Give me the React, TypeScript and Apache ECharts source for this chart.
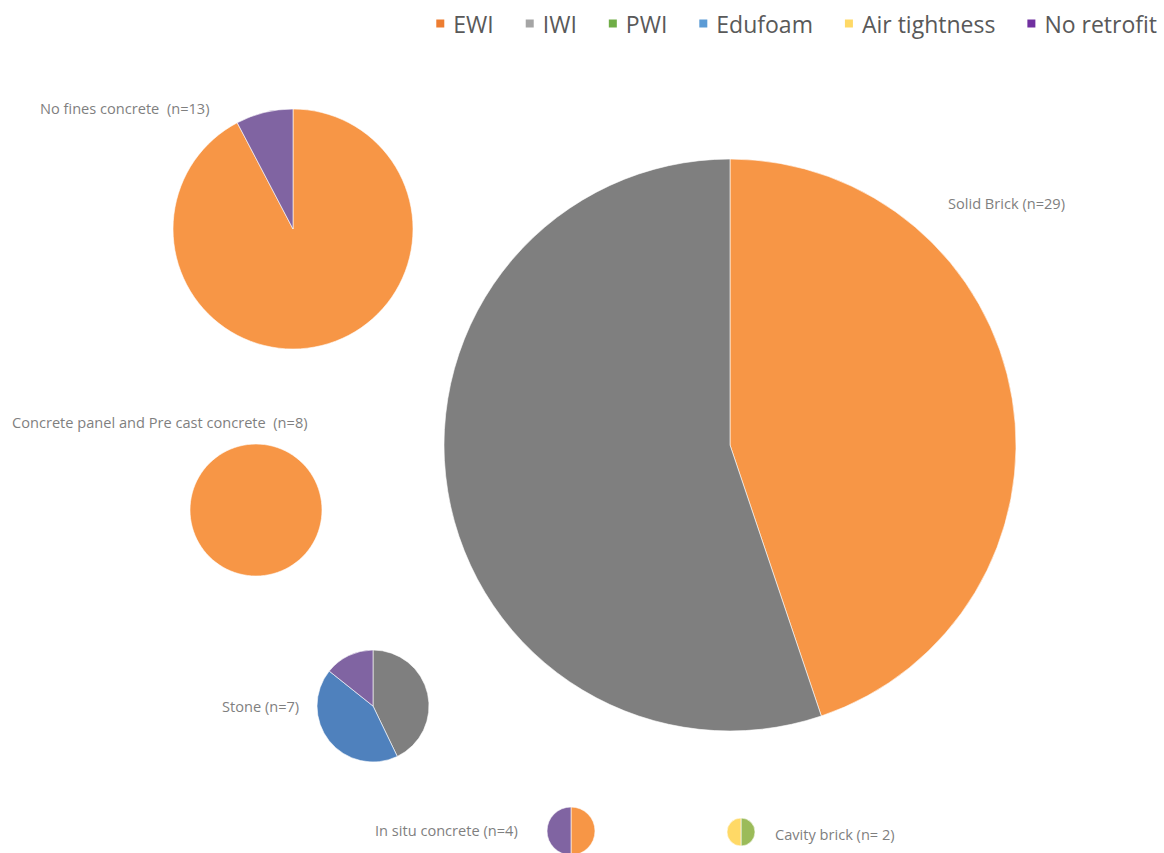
import React, { useEffect, useRef } from "react";
import * as echarts from "echarts";

const categories = ["EWI", "IWI", "PWI", "Edufoam", "Air tightness", "No retrofit"];
const sliceColors = ["#F79646", "#7F7F7F", "#9BBB59", "#4F81BD", "#FFD966", "#8064A2"];
const legendColors = ["#ED7D31", "#A5A5A5", "#70AD47", "#5B9BD5", "#FFD966", "#7030A0"];

const wallTypes = [
  "Solid Brick (n=29)",
  "No fines concrete  (n=13)",
  "Concrete panel and Pre cast concrete  (n=8)",
  "Stone (n=7)",
  "In situ concrete (n=4)",
  "Cavity brick (n= 2)",
];

// counts per category: EWI, IWI, PWI, Edufoam, Air tightness, No retrofit
const solidBrick = [13, 16, 0, 0, 0, 0];
const noFinesConcrete = [12, 0, 0, 0, 0, 1];
const concretePanel = [8, 0, 0, 0, 0, 0];
const stone = [0, 3, 0, 3, 0, 1];
const inSituConcrete = [2, 0, 0, 0, 0, 2];
const cavityBrick = [0, 0, 1, 0, 1, 0];

const seriesValues = [solidBrick, noFinesConcrete, concretePanel, stone, inSituConcrete, cavityBrick];

// layout (pixels): pie center, radius, label position
const pieLayout = [
  { cx: 730, cy: 445, r: 286, lx: 948, ly: 203 },
  { cx: 293, cy: 229, r: 120, lx: 40, ly: 108 },
  { cx: 256, cy: 510, r: 66, lx: 12, ly: 422 },
  { cx: 373, cy: 706, r: 56, lx: 222, ly: 706 },
  { cx: 571, cy: 831, r: 24, lx: 375, ly: 830 },
  { cx: 741, cy: 832, r: 14, lx: 775, ly: 834 },
];

export default function App() {
  const ref = useRef<HTMLDivElement>(null);
  useEffect(() => {
    if (!ref.current) return;
    const chart = echarts.init(ref.current, undefined, { renderer: "svg" });
    const series = seriesValues.map((vals, i) => {
      const L = pieLayout[i];
      return {
        type: "pie",
        name: wallTypes[i],
        center: [L.cx, L.cy],
        radius: [0, L.r],
        startAngle: 90,
        clockwise: true,
        label: { show: false },
        labelLine: { show: false },
        emphasis: { disabled: true },
        itemStyle: { borderColor: "#ffffff", borderWidth: 0.6 },
        data: vals
          .map((v, k) => ({ name: categories[k], value: v, itemStyle: { color: sliceColors[k] } }))
          .filter((d) => d.value > 0),
      };
    });
    const graphic = wallTypes.map((t, i) => ({
      type: "text",
      x: pieLayout[i].lx,
      y: pieLayout[i].ly,
      style: {
        text: t,
        fill: "#7F7F7F",
        font: '14.6px "Open Sans", sans-serif',
        textVerticalAlign: "middle",
        textAlign: "left",
      },
    }));
    chart.setOption({
      animation: false,
      backgroundColor: "#ffffff",
      legend: {
        right: 2,
        top: 7,
        itemWidth: 10,
        itemHeight: 10,
        itemGap: 30,
        icon: "rect",
        selectedMode: false,
        textStyle: {
          fontSize: 23,
          color: "#595959",
          fontFamily: "Open Sans, sans-serif",
          padding: [0, 0, 0, 3],
        },
        data: categories.map((c, k) => ({ name: c, itemStyle: { color: legendColors[k] } })),
      },
      graphic,
      series,
    });
    return () => chart.dispose();
  }, []);
  return (
    <div
      ref={ref}
      style={{ position: "fixed", left: 0, top: 0, width: 1164, height: 853, background: "#fff" }}
    />
  );
}
